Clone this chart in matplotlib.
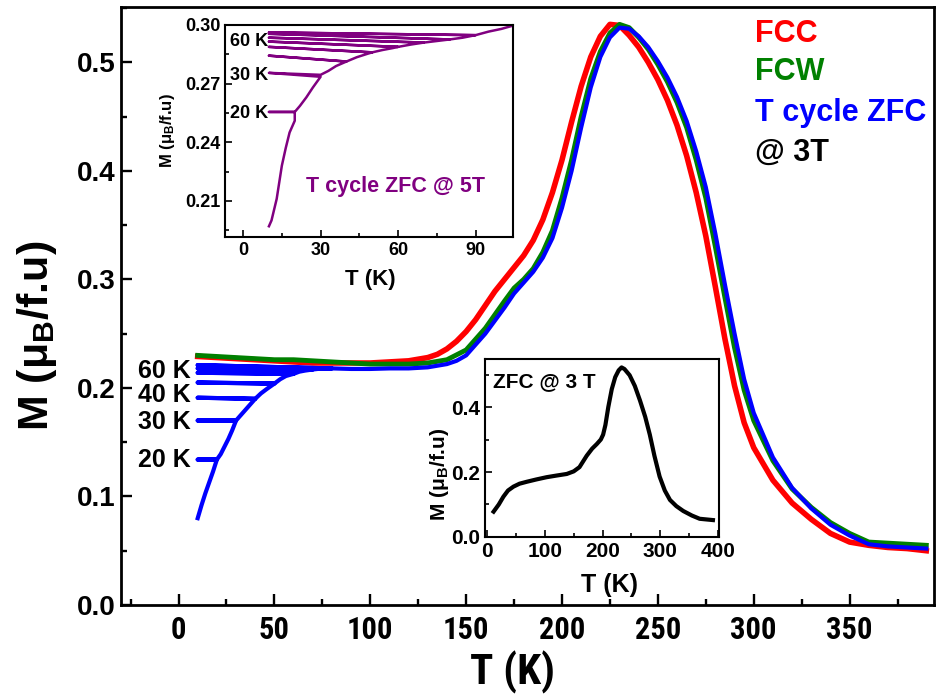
import matplotlib
matplotlib.use("Agg")
import matplotlib.pyplot as plt
from matplotlib.ticker import MultipleLocator, FormatStrFormatter

plt.rcParams['font.family'] = ['Liberation Sans', 'DejaVu Sans']
plt.rcParams['font.weight'] = 'bold'
plt.rcParams['axes.labelweight'] = 'bold'
plt.rcParams['mathtext.fontset'] = 'custom'
plt.rcParams['mathtext.rm'] = 'Liberation Sans:bold'
plt.rcParams['mathtext.it'] = 'Liberation Sans:bold'
plt.rcParams['mathtext.bf'] = 'Liberation Sans:bold'

NARROW = ['Liberation Sans Narrow', 'Roboto Condensed', 'Liberation Sans']

# ---- main panel: M(T) at 3 T ----
T_fcc = [10, 20, 30, 40, 50, 60, 70, 80, 90, 100, 110, 120, 130, 135, 140, 145,
         150, 155, 160, 165, 170, 175, 180, 185, 190, 195, 200, 205, 210, 215,
         220, 225, 230, 235, 240, 245, 250, 255, 260, 265, 270, 275, 280, 285,
         290, 295, 300, 310, 320, 330, 340, 350, 360, 370, 380, 390]
M_fcc = [0.229, 0.228, 0.227, 0.226, 0.225, 0.224, 0.223, 0.223, 0.223, 0.223,
         0.224, 0.225, 0.228, 0.231, 0.236, 0.243, 0.252, 0.263, 0.276, 0.289,
         0.300, 0.311, 0.322, 0.336, 0.355, 0.380, 0.410, 0.445, 0.478, 0.505,
         0.524, 0.535, 0.534, 0.525, 0.514, 0.500, 0.484, 0.465, 0.442, 0.414,
         0.380, 0.340, 0.293, 0.245, 0.202, 0.168, 0.145, 0.115, 0.094, 0.079,
         0.066, 0.058, 0.055, 0.053, 0.052, 0.050]

T_fcw = [10, 20, 30, 40, 50, 60, 70, 80, 90, 100, 110, 120, 130, 140, 150, 160,
         170, 175, 180, 185, 190, 195, 200, 205, 210, 215, 220, 225, 230, 235,
         240, 245, 250, 255, 260, 265, 270, 275, 280, 285, 290, 295, 300, 310,
         320, 330, 340, 350, 360, 370, 380, 390]
M_fcw = [0.230, 0.229, 0.228, 0.227, 0.226, 0.226, 0.225, 0.224, 0.223, 0.222,
         0.222, 0.222, 0.223, 0.226, 0.235, 0.255, 0.280, 0.292, 0.300, 0.310,
         0.325, 0.345, 0.375, 0.410, 0.450, 0.485, 0.510, 0.527, 0.535, 0.532,
         0.523, 0.512, 0.498, 0.482, 0.463, 0.440, 0.410, 0.375, 0.330, 0.283,
         0.237, 0.198, 0.170, 0.133, 0.107, 0.090, 0.076, 0.066, 0.058, 0.057,
         0.056, 0.055]

# temperature-cycled ZFC: warm, cycle back to 10 K at 20/30/40/50/60/70/80 K
T_cyc = [10, 12, 14, 16, 18, 20, 10, 20, 22, 24, 26, 28, 30, 10, 30, 32, 34,
         36, 38, 40, 10, 40, 43, 46, 50, 10, 50, 53, 56, 60, 10, 60, 63, 66,
         70, 10, 70, 75, 80, 10, 80, 90, 100, 110, 120, 130, 140, 145, 150,
         160, 170, 175, 180, 185, 190, 195, 200, 205, 210, 215, 220, 225, 230,
         235, 240, 245, 250, 255, 260, 265, 270, 275, 280, 285, 290, 295, 300,
         310, 320, 330, 340, 350, 360, 370, 380, 390]
M_cyc = [0.080, 0.092, 0.103, 0.113, 0.123, 0.134, 0.134, 0.134, 0.139, 0.146,
         0.153, 0.161, 0.170, 0.170, 0.170, 0.174, 0.178, 0.182, 0.186, 0.190,
         0.191, 0.190, 0.195, 0.199, 0.204, 0.205, 0.204, 0.208, 0.211, 0.213,
         0.214, 0.213, 0.215, 0.216, 0.217, 0.218, 0.217, 0.218, 0.218, 0.221,
         0.218, 0.2175, 0.2175, 0.218, 0.218, 0.219, 0.222, 0.225, 0.230,
         0.250, 0.274, 0.287, 0.297, 0.307, 0.320, 0.338, 0.366, 0.400, 0.440,
         0.477, 0.505, 0.523, 0.532, 0.531, 0.524, 0.514, 0.501, 0.486, 0.468,
         0.446, 0.418, 0.385, 0.342, 0.295, 0.250, 0.208, 0.177, 0.136, 0.108,
         0.089, 0.074, 0.064, 0.056, 0.054, 0.053, 0.052]

cyc_labels = ['60 K', '40 K', '30 K', '20 K']
cyc_label_M = [0.2157, 0.1935, 0.1687, 0.1336]

# ---- inset: T-cycled ZFC at 5 T ----
T_5T = [10, 11, 13, 15, 16.5, 18, 20, 20, 10, 20, 22, 24.5, 27, 30, 10, 30, 33,
        36, 40, 10, 40, 44, 48, 50, 10, 50, 54, 58, 60, 10, 60, 65, 70, 10, 70,
        75, 80, 10, 80, 85, 90, 10, 90, 95, 100, 104]
M_5T = [0.197, 0.200, 0.211, 0.228, 0.237, 0.245, 0.251, 0.2555, 0.2555,
        0.2555, 0.2586, 0.263, 0.268, 0.2735, 0.2755, 0.2745, 0.2765, 0.279,
        0.2813, 0.2843, 0.2813, 0.2835, 0.2852, 0.286, 0.2888, 0.286, 0.2872,
        0.2882, 0.2888, 0.2915, 0.2888, 0.290, 0.291, 0.2935, 0.291, 0.2918,
        0.2926, 0.2955, 0.2926, 0.2935, 0.2948, 0.2962, 0.2948, 0.2966, 0.298,
        0.2995]
labels_5T = ['60 K', '30 K', '20 K']
labels_5T_M = [0.2915, 0.274, 0.2549]

# ---- inset: plain ZFC at 3 T ----
T_zfc = [11, 20, 28, 36, 45.5, 56, 68.7, 85, 103, 120, 138, 150, 160, 172.5,
         182, 190, 197, 201, 205, 210, 216, 222, 228, 233, 238, 247, 256, 265,
         274, 282, 290, 299, 308, 317, 328, 340, 355, 368.5, 380, 391.5]
M_zfc = [0.078, 0.100, 0.124, 0.143, 0.155, 0.164, 0.170, 0.177, 0.184, 0.189,
         0.194, 0.202, 0.215, 0.250, 0.272, 0.286, 0.300, 0.315, 0.345, 0.400,
         0.455, 0.492, 0.513, 0.522, 0.517, 0.498, 0.465, 0.420, 0.370, 0.315,
         0.250, 0.186, 0.143, 0.114, 0.095, 0.080, 0.066, 0.056, 0.054, 0.052]

fig = plt.figure(figsize=(9.38, 7.0), dpi=100)
ax = fig.add_axes([0.129, 0.1357, 0.8667, 0.8543])

ax.plot(T_fcc, M_fcc, color='red', lw=4)
ax.plot(T_fcw, M_fcw, color='green', lw=3.5)
ax.plot(T_cyc, M_cyc, color='blue', lw=3)
for lab, m in zip(cyc_labels, cyc_label_M):
    ax.text(6.5, m, lab, ha='right', va='center', fontsize=18, fontweight='bold')

ax.set_xlim(-30, 394)
ax.set_ylim(0, 0.551)
ax.xaxis.set_minor_locator(MultipleLocator(25))
ax.yaxis.set_major_locator(MultipleLocator(0.1))
ax.yaxis.set_minor_locator(MultipleLocator(0.05))
ax.yaxis.set_major_formatter(FormatStrFormatter('%.1f'))
ax.set_xticks([0, 50, 100, 150, 200, 250, 300, 350])
ax.tick_params(which='both', direction='in', width=1.7, top=False, right=False)
ax.tick_params(which='major', length=8)
ax.tick_params(which='minor', length=4)
ax.tick_params(axis='y', labelsize=20, pad=4)
ax.tick_params(axis='x', labelsize=22, pad=7)
for t in ax.get_xticklabels():
    t.set_family(NARROW)
for s in ax.spines.values():
    s.set_linewidth(2)

ax.set_xlabel('T (K)', fontsize=31, family=NARROW, va='center')
ax.xaxis.set_label_coords(0.481, -0.112)
ax.set_ylabel(r'M (μ$_B$/f.u)', fontsize=31, va='center')
ax.yaxis.set_label_coords(-0.103, 0.45)

fig.text(755 / 938, 1 - 34 / 700, 'FCC', color='red', fontsize=22, va='center')
fig.text(755 / 938, 1 - 72 / 700, 'FCW', color='green', fontsize=22, va='center')
fig.text(755 / 938, 1 - 113 / 700, 'T cycle ZFC', color='blue', fontsize=22, va='center')
fig.text(755 / 938, 1 - 153 / 700, '@ 3T', color='black', fontsize=22, va='center')

# inset 1
ax1 = fig.add_axes([0.2399, 0.6614, 0.307, 0.3029])
ax1.plot(T_5T, M_5T, color='purple', lw=1.8)
for lab, m in zip(labels_5T, labels_5T_M):
    ax1.text(9.8, m, lab, ha='right', va='center', fontsize=13, fontweight='bold')
ax1.text(59, 0.2174, 'T cycle ZFC @ 5T', color='purple', fontsize=15.5,
         ha='center', va='center')
ax1.set_xlim(-7, 104.5)
ax1.set_ylim(0.1915, 0.300)
ax1.xaxis.set_major_locator(MultipleLocator(30))
ax1.xaxis.set_minor_locator(MultipleLocator(15))
ax1.yaxis.set_major_locator(MultipleLocator(0.03))
ax1.yaxis.set_minor_locator(MultipleLocator(0.015))
ax1.yaxis.set_major_formatter(FormatStrFormatter('%.2f'))
ax1.tick_params(which='both', direction='in', width=1.2, labelsize=13)
ax1.tick_params(which='major', length=5)
ax1.tick_params(which='minor', length=3)
for s in ax1.spines.values():
    s.set_linewidth(1.5)
ax1.set_xlabel('T (K)', fontsize=16, va='center')
ax1.xaxis.set_label_coords(0.503, -0.198)
ax1.set_ylabel(r'M (μ$_B$/f.u)', fontsize=12, va='center')
ax1.yaxis.set_label_coords(-0.2, 0.5)

# inset 2
ax2 = fig.add_axes([0.517, 0.2329, 0.2495, 0.2543])
ax2.plot(T_zfc, M_zfc, color='black', lw=3)
ax2.text(10, 0.477, 'ZFC @ 3 T', fontsize=15, ha='left', va='center')
ax2.set_xlim(-4, 402)
ax2.set_ylim(0, 0.548)
ax2.xaxis.set_major_locator(MultipleLocator(100))
ax2.xaxis.set_minor_locator(MultipleLocator(50))
ax2.yaxis.set_major_locator(MultipleLocator(0.2))
ax2.yaxis.set_minor_locator(MultipleLocator(0.1))
ax2.yaxis.set_major_formatter(FormatStrFormatter('%.1f'))
ax2.tick_params(which='both', direction='in', width=1.2, labelsize=15)
ax2.tick_params(which='major', length=5)
ax2.tick_params(which='minor', length=3)
for s in ax2.spines.values():
    s.set_linewidth(1.5)
ax2.set_xlabel('T (K)', fontsize=18, va='center')
ax2.xaxis.set_label_coords(0.534, -0.27)
ax2.set_ylabel(r'M (μ$_B$/f.u)', fontsize=15, va='center')
ax2.yaxis.set_label_coords(-0.195, 0.35)

fig.savefig('out.png', dpi=100)
